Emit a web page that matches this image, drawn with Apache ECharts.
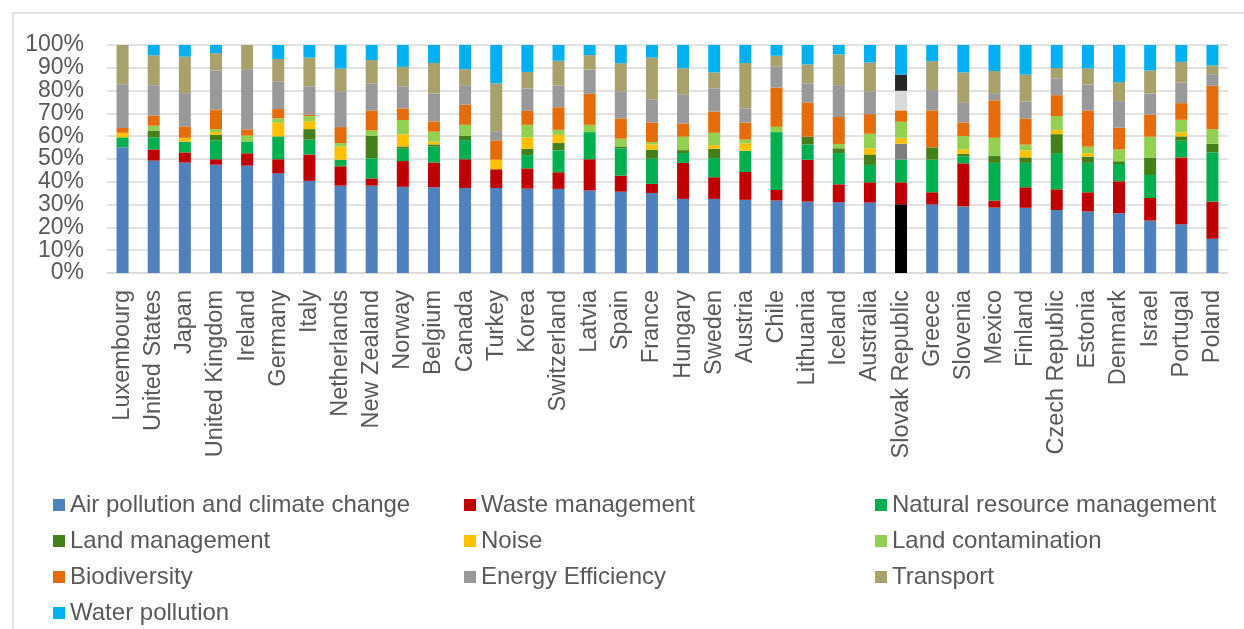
<!DOCTYPE html>
<html>
<head>
<meta charset="utf-8">
<title>Environmental tax bases by domain</title>
<script src="https://cdn.jsdelivr.net/npm/echarts@6/dist/echarts.min.js"></script>
<style>
  html, body { margin: 0; padding: 0; background: #fff; }
  #chart { width: 1244px; height: 629px; }
</style>
</head>
<body>
<div id="chart"></div>
<script>
// categories
const countries = ['Luxembourg', 'United States', 'Japan', 'United Kingdom', 'Ireland', 'Germany', 'Italy',
  'Netherlands', 'New Zealand', 'Norway', 'Belgium', 'Canada', 'Turkey', 'Korea', 'Switzerland', 'Latvia',
  'Spain', 'France', 'Hungary', 'Sweden', 'Austria', 'Chile', 'Lithuania', 'Iceland', 'Australia',
  'Slovak Republic', 'Greece', 'Slovenia', 'Mexico', 'Finland', 'Czech Republic', 'Estonia', 'Denmark',
  'Israel', 'Portugal', 'Poland']

const seriesNames = ['Air pollution and climate change', 'Waste management', 'Natural resource management',
  'Land management', 'Noise', 'Land contamination', 'Biodiversity', 'Energy Efficiency', 'Transport',
  'Water pollution']

// shares in %
const airPollution = [55.2, 49.3, 48.4, 47.5, 47.1, 43.7, 40.4, 38.3, 38.3, 37.8, 37.6, 37.3, 37.3, 37.0, 36.9, 36.2,
  35.7, 35.1, 32.5, 32.5, 32.1, 31.8, 31.3, 31.0, 30.9, 30.2, 30.1, 29.2, 28.7, 28.6, 27.6, 27.0, 26.2, 23.0, 21.4, 15.0]
const wasteMgmt = [0, 4.9, 4.5, 2.4, 5.4, 6.2, 11.6, 8.5, 3.2, 11.3, 10.9, 12.6, 8.2, 8.9, 7.3, 13.7,
  7.0, 4.0, 15.8, 9.5, 12.2, 4.6, 18.4, 7.9, 8.9, 9.6, 5.3, 18.9, 3.1, 9.0, 9.1, 8.4, 14.0, 9.9, 29.3, 16.3]
const naturalResource = [4.3, 5.3, 4.7, 8.3, 5.2, 10.0, 6.5, 2.9, 8.8, 5.4, 6.9, 8.4, 0, 5.8, 9.6, 11.9,
  12.0, 11.0, 4.3, 8.4, 9.3, 25.4, 6.7, 13.7, 7.6, 10.0, 14.3, 3.1, 16.5, 10.7, 15.9, 12.9, 7.6, 10.1, 7.3, 21.6]
const landMgmt = [0, 3.0, 0, 2.4, 0, 0, 4.6, 0, 9.9, 1.0, 1.0, 1.9, 0, 2.8, 3.2, 0,
  0.8, 4.0, 1.3, 4.1, 0, 0, 3.4, 2.1, 4.6, 7.0, 5.4, 1.1, 3.0, 2.4, 8.3, 2.7, 1.2, 7.6, 1.9, 3.8]
const noise = [2.0, 0, 1.7, 1.2, 0, 6.0, 3.5, 5.7, 0, 5.3, 1.2, 0, 4.2, 5.0, 3.6, 0,
  0, 2.3, 0, 1.6, 3.3, 0, 0, 0, 2.7, 2.6, 0, 1.9, 0, 3.1, 1.9, 1.6, 0, 0, 1.8, 0]
const landContamination = [0, 2.1, 0, 1.3, 2.6, 1.9, 2.2, 1.6, 2.3, 6.3, 4.4, 4.8, 0, 5.5, 2.2, 3.2,
  3.4, 1.0, 5.9, 5.4, 1.6, 2.3, 0, 1.9, 6.4, 7.0, 0, 5.9, 8.0, 2.5, 6.0, 2.8, 5.2, 9.2, 5.5, 6.4]
const biodiversity = [2.1, 4.5, 5.0, 8.6, 2.7, 4.1, 0.6, 7.0, 8.8, 5.1, 4.5, 8.8, 8.5, 6.1, 9.9, 13.6,
  8.9, 8.6, 5.8, 9.3, 7.5, 17.2, 15.0, 11.8, 8.6, 5.0, 16.2, 5.9, 16.4, 11.5, 9.2, 15.9, 9.6, 9.7, 7.3, 19.0]
const energyEfficiency = [19.2, 13.3, 14.6, 17.1, 26.4, 12.2, 12.5, 15.7, 11.9, 9.7, 12.2, 8.6, 4.0, 9.8, 9.5, 10.6,
  11.9, 10.2, 12.8, 10.2, 6.2, 9.4, 8.4, 14.0, 10.0, 8.6, 8.9, 8.9, 3.2, 7.4, 7.4, 11.4, 11.6, 9.2, 9.0, 5.1]
const transport = [17.2, 13.1, 16.0, 7.6, 10.6, 9.8, 12.6, 10.0, 10.2, 8.5, 13.4, 7.0, 21.0, 7.3, 10.9, 6.4,
  12.3, 18.3, 11.4, 7.0, 19.9, 4.6, 8.3, 13.5, 12.6, 7.1, 12.7, 13.1, 9.7, 11.8, 4.5, 7.0, 8.3, 10.1, 9.1, 3.9]
const waterPollution = [0, 4.5, 5.1, 3.6, 0, 6.1, 5.5, 10.3, 6.6, 9.6, 7.9, 10.6, 16.8, 11.8, 6.9, 4.4,
  8.0, 5.5, 10.2, 12.0, 7.9, 4.7, 8.5, 4.1, 7.7, 13.0, 7.1, 12.0, 11.4, 13.0, 10.1, 10.3, 16.3, 11.2, 7.4, 8.9]

const yTicks = [0, 10, 20, 30, 40, 50, 60, 70, 80, 90, 100]

const seriesValues = [airPollution, wasteMgmt, naturalResource, landMgmt, noise, landContamination,
  biodiversity, energyEfficiency, transport, waterPollution]
const colors = ['#4f81bd', '#c00000', '#00b050', '#43801a', '#ffc000', '#92d050', '#e46c0a', '#999999', '#a9a16b', '#00b0f0']
// Slovak Republic bar is drawn with its own shades
const highlightIndex = countries.indexOf('Slovak Republic')
const highlightColors = ['#000000', '#c00000', '#00b050', '#7f7f7f', '#ffc000', '#92d050', '#e46c0a', '#d9d9d9', '#262626', '#00b0f0']

// 100% stacked: scale each country to a total of 100
const totals = countries.map((c, i) => seriesValues.reduce((s, arr) => s + arr[i], 0))

const textColor = '#595959'
const font = 'Liberation Sans, Arial, sans-serif'
const yMax = yTicks[yTicks.length - 1]

const yLabelStyle = {
  margin: 23,
  hideOverlap: false,
  fontFamily: font,
  fontSize: 23,
  color: textColor
}

const chart = echarts.init(document.getElementById('chart'))

const option = {
  animation: false,
  color: colors,
  grid: {
    left: 107,
    right: 16,
    top: 45,
    bottom: 356
  },
  graphic: [
    {
      type: 'rect',
      silent: true,
      shape: { x: 13, y: 13, width: 1250, height: 640 },
      style: { fill: 'none', stroke: '#d9d9d9', lineWidth: 1.5 }
    }
  ],
  legend: {
    left: 53,
    top: 487,
    width: 1240,
    padding: 0,
    itemGap: 0,
    itemWidth: 12,
    itemHeight: 12,
    icon: 'rect',
    data: seriesNames,
    textStyle: {
      fontFamily: font,
      fontSize: 24,
      color: textColor,
      width: 394,
      lineHeight: 36
    }
  },
  xAxis: {
    type: 'category',
    data: countries,
    axisTick: { show: false },
    axisLine: { lineStyle: { color: '#d9d9d9', width: 1.5 } },
    axisLabel: {
      interval: 0,
      rotate: 90,
      margin: 17,
      fontFamily: font,
      fontSize: 23.5,
      color: textColor
    }
  },
  yAxis: [
    {
      // main axis: 0% .. 90% labels + gridlines
      type: 'value',
      min: yTicks[0],
      max: yMax,
      interval: yTicks[1] - yTicks[0],
      axisLine: { show: false },
      axisTick: { show: false },
      splitLine: { lineStyle: { color: '#d9d9d9', width: 1.5 } },
      axisLabel: Object.assign({}, yLabelStyle, {
        formatter: '{value}%',
        showMinLabel: true,
        showMaxLabel: false
      })
    },
    {
      // second axis on the same side only for the 100% label
      type: 'value',
      position: 'left',
      min: yTicks[0],
      max: yMax,
      interval: yMax - yTicks[0],
      axisLine: { show: false },
      axisTick: { show: false },
      splitLine: { show: false },
      axisLabel: Object.assign({}, yLabelStyle, {
        formatter: v => (v === yMax ? v + '%' : ''),
        showMinLabel: false,
        showMaxLabel: true
      })
    }
  ],
  series: seriesNames.map((name, s) => ({
    name: name,
    type: 'bar',
    stack: 'total',
    barWidth: 12,
    data: seriesValues[s].map((v, i) => {
      const item = { value: v / totals[i] * 100 }
      if (i === highlightIndex) {
        item.itemStyle = { color: highlightColors[s] }
      }
      return item
    })
  }))
}

chart.setOption(option)
</script>
</body>
</html>
